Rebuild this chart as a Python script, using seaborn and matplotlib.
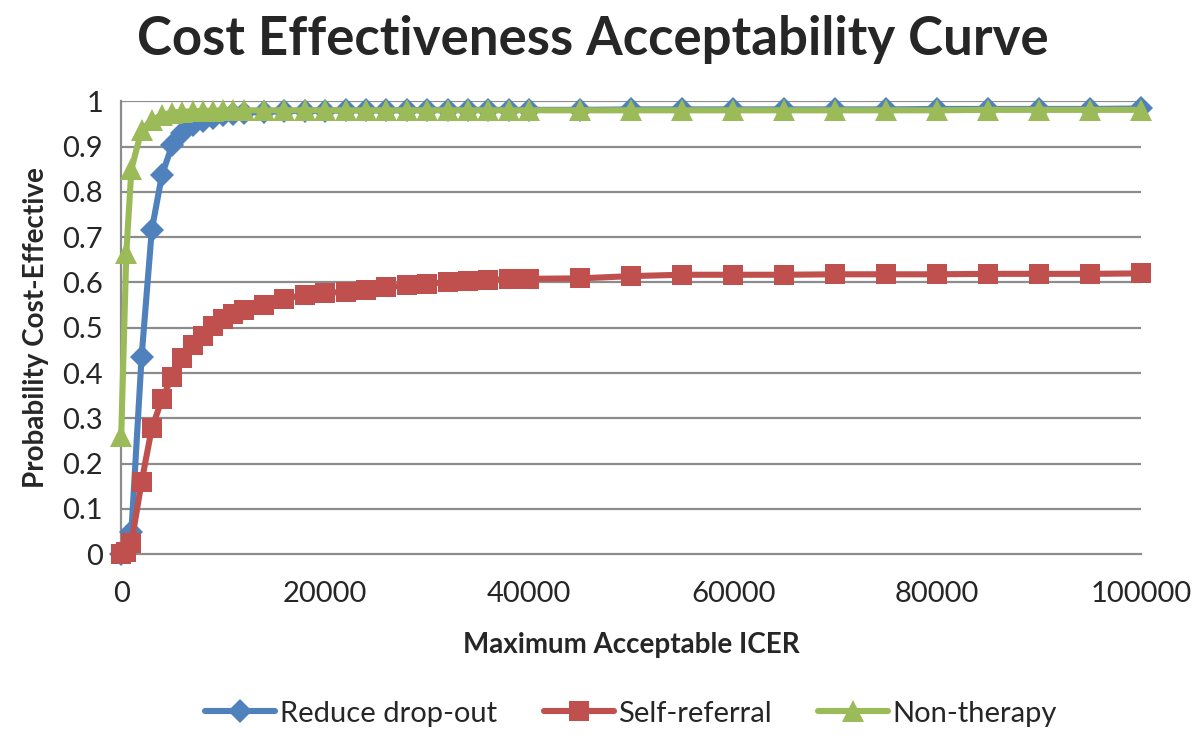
import numpy as np
import pandas as pd
import matplotlib
matplotlib.use("Agg")
import matplotlib.pyplot as plt
import seaborn as sns

# Maximum acceptable ICER (willingness to pay) values
icer = [0, 500, 1000, 2000, 3000, 4000, 5000, 6000, 7000, 8000, 9000, 10000,
        11000, 12000, 14000, 16000, 18000, 20000, 22000, 24000, 26000, 28000,
        30000, 32000, 34000, 36000, 38000, 40000, 45000, 50000, 55000, 60000,
        65000, 70000, 75000, 80000, 85000, 90000, 95000, 100000]

# probability cost-effective
reduce_dropout = [0.0, 0.01, 0.05, 0.436, 0.716, 0.838, 0.903, 0.93, 0.947, 0.957,
                  0.964, 0.969, 0.972, 0.975, 0.977, 0.978, 0.979, 0.979, 0.98, 0.98,
                  0.98, 0.98, 0.981, 0.981, 0.981, 0.981, 0.981, 0.981, 0.981, 0.982,
                  0.982, 0.982, 0.982, 0.982, 0.982, 0.983, 0.983, 0.983, 0.983, 0.984]
self_referral = [0.0, 0.005, 0.025, 0.16, 0.278, 0.342, 0.392, 0.433, 0.462, 0.482,
                 0.503, 0.52, 0.531, 0.539, 0.551, 0.564, 0.573, 0.576, 0.58, 0.583,
                 0.589, 0.594, 0.597, 0.601, 0.604, 0.606, 0.607, 0.608, 0.609, 0.614,
                 0.617, 0.617, 0.617, 0.618, 0.618, 0.618, 0.619, 0.619, 0.619, 0.62]
non_therapy = [0.26, 0.665, 0.85, 0.937, 0.958, 0.97, 0.975, 0.977, 0.978, 0.979,
               0.979, 0.98, 0.98, 0.98, 0.98, 0.98, 0.98, 0.98, 0.98, 0.98,
               0.98, 0.98, 0.98, 0.98, 0.98, 0.98, 0.98, 0.98, 0.98, 0.98,
               0.98, 0.98, 0.98, 0.98, 0.98, 0.98, 0.981, 0.981, 0.981, 0.981]

series_names = ["Reduce drop-out", "Self-referral", "Non-therapy"]
colors = ["#4F81BD", "#C0504D", "#9BBB59"]
markers = ["D", "s", "^"]
msizes = [12, 15, 16]

sns.set_style("white")
plt.rcParams['font.family'] = ['Lato', 'DejaVu Sans']

df = pd.concat([
    pd.DataFrame({"ICER": icer, "Prob": vals, "Series": name})
    for name, vals in zip(series_names, [reduce_dropout, self_referral, non_therapy])
])

fig = plt.figure(figsize=(12, 7.5), dpi=100)
ax = fig.add_axes([0.101, 0.261, 0.85, 0.604])

for name, c, m, ms in zip(series_names, colors, markers, msizes):
    sns.lineplot(data=df[df["Series"] == name], x="ICER", y="Prob", ax=ax,
                 color=c, marker=m, markersize=ms, markeredgewidth=0,
                 linewidth=4.4, label=name, estimator=None, sort=False, clip_on=False)

ax.set_xlim(0, 100000)
ax.set_ylim(0, 1)
ax.set_xticks([0, 20000, 40000, 60000, 80000, 100000])
ax.set_yticks(np.arange(0, 1.01, 0.1))
ax.set_yticklabels(["0", "0.1", "0.2", "0.3", "0.4", "0.5", "0.6", "0.7", "0.8", "0.9", "1"])
ax.set_xticklabels(["0", "20000", "40000", "60000", "80000", "100000"])
for v in np.arange(0.1, 1.01, 0.1):
    ax.axhline(v, color="#8c8c8c", lw=1.6, zorder=0)

for s in ["top", "right"]:
    ax.spines[s].set_visible(False)
for s in ["left", "bottom"]:
    ax.spines[s].set_color("#8c8c8c")
    ax.spines[s].set_linewidth(1.6)
    ax.spines[s].set_zorder(0)
ax.tick_params(axis="both", direction="out", length=7, width=1.6, color="#8c8c8c",
               labelsize=21, pad=6)
ax.tick_params(axis="x", pad=12)

ax.set_xlabel("Maximum Acceptable ICER", fontsize=20, fontweight="bold", labelpad=18)
ax.set_ylabel("Probability Cost-Effective", fontsize=20, fontweight="bold", labelpad=10)

fig.text(0.494, 0.948, "Cost Effectiveness Acceptability Curve", ha="center", va="center",
         fontsize=38, fontweight="bold")

ax.legend(loc="center", bbox_to_anchor=(0.5, -0.352), ncol=3, frameon=False,
          fontsize=21, handlelength=2.4, handletextpad=0.15, columnspacing=1.6)

fig.savefig("out.png", dpi=100)
